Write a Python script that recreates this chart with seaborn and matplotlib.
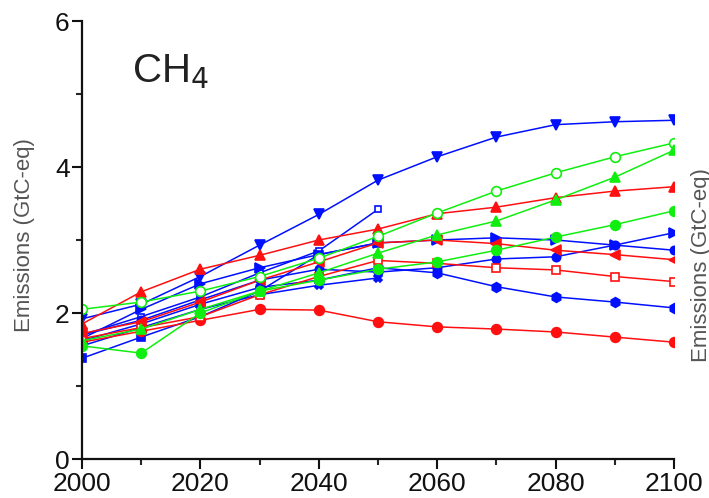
import matplotlib
matplotlib.use("Agg")
import matplotlib.pyplot as plt
import seaborn as sns
import pandas as pd
import numpy as np
from matplotlib.ticker import MultipleLocator

sns.set_theme(style="white")
plt.rcParams['font.family'] = ['Liberation Sans', 'DejaVu Sans']

years = [2000, 2010, 2020, 2030, 2040, 2050, 2060, 2070, 2080, 2090, 2100]
years_short = [2000, 2010, 2020, 2030, 2040, 2050]

# Blue series
b_down = [1.92, 2.12, 2.50, 2.93, 3.35, 3.82, 4.14, 4.41, 4.58, 4.62, 4.64]
b_open_sq = [1.70, 1.95, 2.22, 2.55, 2.85, 3.42]
b_right = [1.65, 2.05, 2.40, 2.62, 2.80, 2.96, 3.00, 3.03, 3.00, 2.93, 3.10]
b_square = [1.38, 1.67, 1.95, 2.30, 2.80, 2.96]
b_hex = [1.62, 1.85, 2.12, 2.35, 2.45, 2.62, 2.55, 2.36, 2.22, 2.15, 2.07]
b_x = [1.55, 1.80, 2.05, 2.25, 2.38, 2.48]
b_circle = [1.70, 1.90, 2.18, 2.45, 2.60, 2.56, 2.62, 2.74, 2.77, 2.93, 2.86]

# Red series
r_star = [1.85, 2.29, 2.60, 2.79, 3.00, 3.15, 3.36, 3.45, 3.58, 3.67, 3.73]
r_circle = [1.60, 1.75, 1.90, 2.05, 2.04, 1.88, 1.81, 1.78, 1.74, 1.67, 1.60]
r_square = [1.65, 1.80, 1.95, 2.25, 2.50, 2.72, 2.68, 2.62, 2.59, 2.50, 2.43]
r_left = [1.72, 1.88, 2.15, 2.45, 2.70, 2.96, 3.00, 2.95, 2.86, 2.80, 2.73]

# Green series
g_open = [2.05, 2.15, 2.30, 2.50, 2.75, 3.05, 3.37, 3.67, 3.92, 4.14, 4.33]
g_tri = [1.62, 1.78, 2.05, 2.30, 2.55, 2.82, 3.07, 3.26, 3.55, 3.86, 4.23]
g_circle = [1.55, 1.45, 2.00, 2.30, 2.45, 2.60, 2.70, 2.86, 3.04, 3.21, 3.40]

BLUE = '#0010ff'
RED = '#ff1010'
GREEN = '#10ee10'

series = [
    (years, b_down, BLUE, 'v', True, 7),
    (years_short, b_open_sq, BLUE, 's', False, 4.5),
    (years, b_right, BLUE, '>', True, 7),
    (years_short, b_square, BLUE, 's', True, 6),
    (years, b_hex, BLUE, 'h', True, 7),
    (years_short, b_x, BLUE, 'X', True, 6),
    (years, b_circle, BLUE, 'o', True, 6),
    (years, r_star, RED, '^', True, 7),
    (years, r_circle, RED, 'o', True, 7),
    (years, r_square, RED, 's', False, 5.5),
    (years, r_left, RED, '<', True, 6.5),
    (years, g_open, GREEN, 'o', False, 7),
    (years, g_tri, GREEN, '^', True, 7),
    (years, g_circle, GREEN, 'o', True, 7),
]

fig = plt.figure(figsize=(7.09, 4.98), dpi=100)
ax = fig.add_axes([82/709, 39/498, 592/709, 438/498])

for i, (xs, ys, col, mk, filled, ms) in enumerate(series):
    df = pd.DataFrame({'year': xs, 'value': ys})
    sns.lineplot(data=df, x='year', y='value', ax=ax, color=col, marker=mk,
                 markersize=ms, linewidth=1.1, markeredgecolor=col,
                 markerfacecolor=col if filled else 'white',
                 markeredgewidth=1.2, errorbar=None, sort=False)

ax.set_xlim(2000, 2100)
ax.set_ylim(0, 6)
ax.xaxis.set_major_locator(MultipleLocator(20))
ax.xaxis.set_minor_locator(MultipleLocator(10))
ax.yaxis.set_major_locator(MultipleLocator(2))
ax.yaxis.set_minor_locator(MultipleLocator(1))
ax.tick_params(axis='both', which='major', direction='out', length=7, width=1.5,
               labelsize=19, colors='#111111', pad=2, bottom=True, left=True)
ax.tick_params(axis='both', which='minor', direction='out', length=4, width=1.5,
               bottom=True, left=True)
for side in ['top', 'right']:
    ax.spines[side].set_visible(False)
for side in ['left', 'bottom']:
    ax.spines[side].set_linewidth(1.6)
    ax.spines[side].set_color('#111111')

ax.set_xlabel('')
ax.set_ylabel('')
fig.text(25/709, 1 - 235/498, 'Emissions (GtC-eq)', rotation=90, fontsize=16,
         color='#555555', ha='center', va='center')
fig.text(691/709, 1 - 265/498, 'Emissions (GtC-eq)', rotation=90, fontsize=16,
         color='#555555', ha='left', va='center')
ax.text(2008.5, 5.3, 'CH$_4$', fontsize=29, color='#222222', ha='left', va='center')

fig.savefig('out.png', dpi=100)
